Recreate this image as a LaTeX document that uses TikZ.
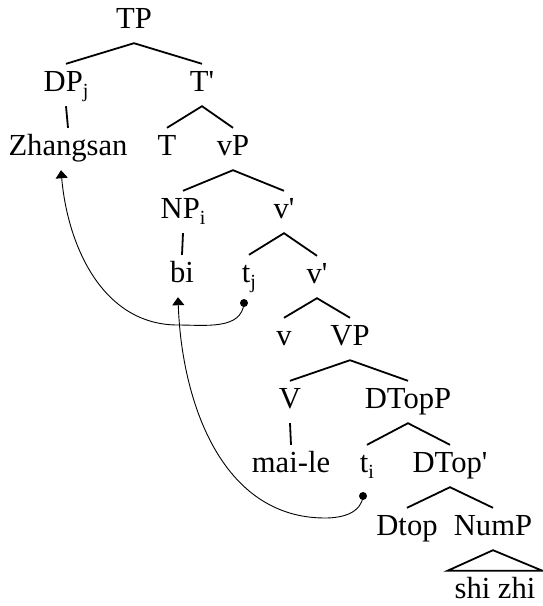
\documentclass[tikz,border=0pt]{standalone}
\usepackage{fontspec}
\setmainfont{Liberation Serif}
\usetikzlibrary{arrows.meta}
\newcommand\lsub[1]{\raisebox{-0.2em}{\fontsize{20}{20}\selectfont #1}}
\newcommand\xbarmark{\textquotesingle}
\begin{document}
\begin{tikzpicture}[x=1pt,y=1pt,
  lab/.style={anchor=base,font=\fontsize{30.6}{36}\selectfont,text height=21pt,text depth=9pt,inner ysep=6pt,inner xsep=0pt},
  br/.style={line width=1.8pt},
  mv/.style={line width=0.9pt,-{Triangle[width=12pt,length=8pt]}},
  dotc/.style={circle,fill,inner sep=0pt,minimum size=8pt}]
\useasboundingbox (0,0) rectangle (542,-606);
\node[lab] (TP) at (134,-28) {TP};
\node[lab] (DP) at (66,-91) {DP\lsub{j}};
\node[lab] (Tb) at (202,-91) {T\xbarmark};
\node[lab] (Zh) at (68,-155) {Zhangsan};
\node[lab] (T) at (167,-155) {T};
\node[lab] (vP) at (233,-155) {vP};
\node[lab] (NP) at (183,-218) {NP\lsub{i}};
\node[lab] (vb1) at (284,-218) {v\xbarmark};
\node[lab] (bi) at (182,-282) {bi};
\node[lab] (tj) at (249,-282) {t\lsub{j}};
\node[lab] (vb2) at (317,-283) {v\xbarmark};
\node[lab] (v) at (284,-345) {v};
\node[lab] (VP) at (350,-345) {VP};
\node[lab] (V) at (290,-408) {V};
\node[lab] (DTopP) at (408,-408) {DTopP};
\node[lab] (maile) at (291,-472) {mai-le};
\node[lab] (ti) at (367,-472) {t\lsub{i}};
\node[lab] (DTopb) at (450,-472) {DTop\xbarmark};
\node[lab] (Dtop) at (407,-535) {Dtop};
\node[lab] (NumP) at (493,-535) {NumP};
\node[lab,inner xsep=7pt] (shizhi) at (495,-598) {shi zhi};
\draw[br] (DP.north) -- (TP.south) -- (Tb.north);
\draw[br] (DP.south) -- (Zh.north);
\draw[br] (T.north) -- (Tb.south) -- (vP.north);
\draw[br] (NP.north) -- (vP.south) -- (vb1.north);
\draw[br] (NP.south) -- (bi.north);
\draw[br] (tj.north) -- (vb1.south) -- (vb2.north);
\draw[br] (v.north) -- (vb2.south) -- (VP.north);
\draw[br] (V.north) -- (VP.south) -- (DTopP.north);
\draw[br] (V.south) -- (maile.north);
\draw[br] (ti.north) -- (DTopP.south) -- (DTopb.north);
\draw[br] (Dtop.north) -- (DTopb.south) -- (NumP.north);
\draw[br,line join=miter] (NumP.south) -- (shizhi.north west) -- (shizhi.north east) -- cycle;
\node[dotc] (dj) at (244,-303) {};
\node[dotc] (di) at (363,-496) {};
\coordinate (bj) at (178,-325);
\coordinate (bi2) at (325,-518);
\draw[mv] (dj.center) to[out=-95,in=0] (bj) to[out=180,in=-85] ([xshift=-7pt]Zh.south);
\draw[mv] (di.center) to[out=-95,in=0] (bi2) to[out=180,in=-88] ([xshift=-4pt]bi.south);
\end{tikzpicture}
\end{document}
